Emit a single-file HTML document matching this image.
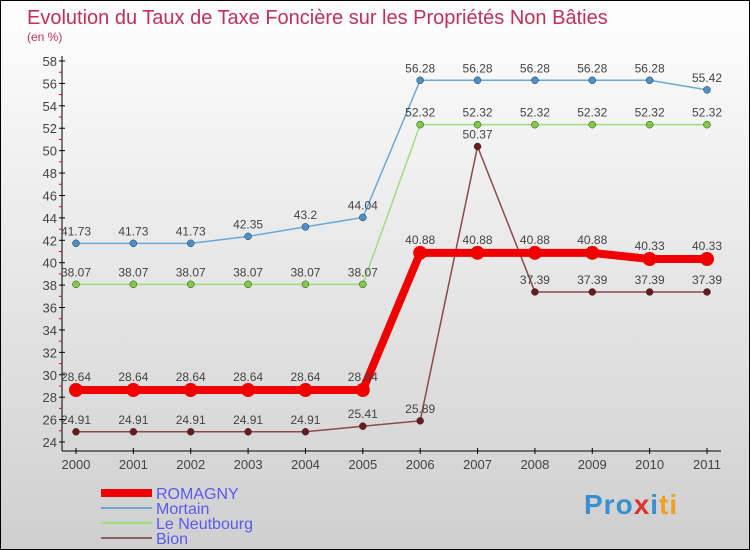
<!DOCTYPE html>
<html><head><meta charset="utf-8"><style>
body{margin:0}
#c{width:748px;height:548px;border:1px solid #000;background:linear-gradient(#fefefe,#cfcfcf);position:relative;font-family:"Liberation Sans",sans-serif;overflow:hidden}
</style></head><body>
<div id="c">
<svg id="s" width="748" height="548" xmlns="http://www.w3.org/2000/svg">
<text x="26" y="23" font-size="20" fill="#c0305a">Evolution du Taux de Taxe Foncière sur les Propriétés Non Bâties</text>
<text x="26" y="40" font-size="12" fill="#c0305a">(en %)</text>
<g id="g"></g>
</svg>
<div style="position:absolute;left:583px;top:488px;font-size:28px;font-weight:bold;color:#f0a020;letter-spacing:1px"><span style="color:#3a8fd0">Pro</span><span style="color:#e03030">x</span><span style="color:#3a8fd0">i</span>ti</div>
</div>
<script>
const years=["2000","2001","2002","2003","2004","2005","2006","2007","2008","2009","2010","2011"];
const romagny=[28.64,28.64,28.64,28.64,28.64,28.64,40.88,40.88,40.88,40.88,40.33,40.33];
const mortain=[41.73,41.73,41.73,42.35,43.2,44.04,56.28,56.28,56.28,56.28,56.28,55.42];
const neufbourg=[38.07,38.07,38.07,38.07,38.07,38.07,52.32,52.32,52.32,52.32,52.32,52.32];
const bion=[24.91,24.91,24.91,24.91,24.91,25.41,25.89,50.37,37.39,37.39,37.39,37.39];
const yTicks=[24,26,28,30,32,34,36,38,40,42,44,46,48,50,52,54,56,58];
const NS="http://www.w3.org/2000/svg",g=document.getElementById('g');
const X=i=>75+i*(706-75)/11, Y=v=>441-(v-24)*(441-60)/34;
function el(t,a,n){const e=document.createElementNS(NS,t);for(const k in a)e.setAttribute(k,a[k]);


g.appendChild(e);return e;}
function tx(x,y,s,sz,f,anc,n){const e=el('text',{x:x,y:y,'font-size':sz,fill:f,'text-anchor':anc},n);e.textContent=s;return e;}
el('line',{x1:61,y1:55,x2:61,y2:450,stroke:'#000'},'y-axis');
el('line',{x1:61,y1:450,x2:720,y2:450,stroke:'#000'},'x-axis');
yTicks.forEach(v=>{el('line',{x1:58,y1:Y(v),x2:64,y2:Y(v),stroke:'#000'},'y-tick');
tx(56,Y(v)+5,v,13,'#444','end','y-tick-label');
if(v<58)el('line',{x1:58,y1:Y(v+1),x2:61,y2:Y(v+1),stroke:'#e00'},'y-minor-tick');});
years.forEach((y,i)=>{el('line',{x1:X(i),y1:447,x2:X(i),y2:453,stroke:'#000'},'x-tick');
tx(X(i),468,y,13,'#444','middle','x-tick-label');});
function series(d,col,w,r,dot,n,lab){
el('polyline',{points:d.map((v,i)=>X(i)+','+Y(v)).join(' '),fill:'none',stroke:col,'stroke-width':w},n+'-line');
d.forEach((v,i)=>{el('circle',{cx:X(i),cy:Y(v),r:r,fill:dot,stroke:lab?'none':'#333','stroke-width':0.5},n+'-point');
tx(X(i),Y(v)-(lab?9:8),String(v),12,'#444','middle',n+'-value');});}
series(mortain,'#6aa8d8',1.5,3.5,'#4a90cc','mortain');
series(neufbourg,'#a0dc80',1.5,3.5,'#80cc40','neufbourg');
series(bion,'#8a4a4a',1.5,3.5,'#6a1a1a','bion');
series(romagny,'#f00000',8,7,'#f00000','romagny',1);
const leg=[['ROMAGNY','#f00000',8],['Mortain','#6aa8d8',2],['Le Neutbourg','#a0dc80',2],['Bion','#8a6060',2]];
leg.forEach((l,i)=>{const y=492+i*15;el('line',{x1:100,y1:y,x2:151,y2:y,stroke:l[1],'stroke-width':l[2]},'legend-swatch');
tx(155,y+6,l[0],16,'#5a5aee','start','legend-entry');});
</script>
</body></html>
